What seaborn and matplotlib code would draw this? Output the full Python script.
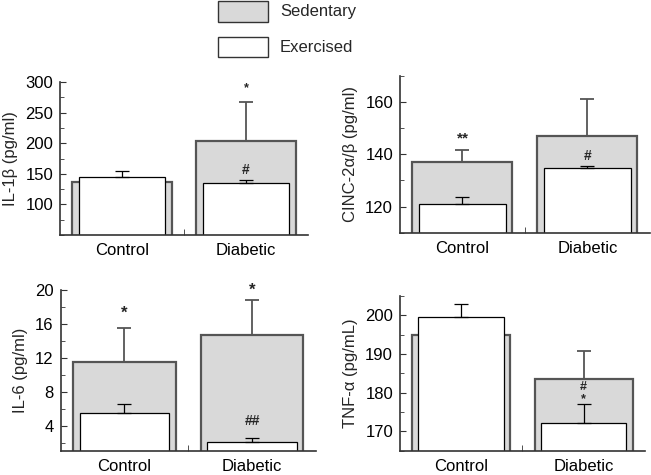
import numpy as np
import seaborn as sns
import matplotlib.pyplot as plt
from matplotlib.patches import Rectangle
from matplotlib.ticker import MultipleLocator

groups = ['Control', 'Diabetic']

# IL-1b
il1b_sed = [137, 203]
il1b_sed_err = [0, 64]
il1b_exe = [145, 135]
il1b_exe_err = [9, 5]

# CINC-2a/b
cinc_sed = [137, 147]
cinc_sed_err = [4.5, 14]
cinc_exe = [121, 134.7]
cinc_exe_err = [2.7, 0.8]

# IL-6
il6_sed = [11.5, 14.7]
il6_sed_err = [4.0, 4.1]
il6_exe = [5.45, 2.05]
il6_exe_err = [1.05, 0.5]

# TNF-a
tnf_sed = [194.8, 183.5]
tnf_sed_err = [0, 7.2]
tnf_exe = [199.6, 172.2]
tnf_exe_err = [3.4, 4.8]

sed_color = '#d9d9d9'
edge_dark = '#555555'

sns.set_style('ticks')
plt.rcParams['font.family'] = ['Liberation Sans', 'DejaVu Sans']

fig = plt.figure(figsize=(6.51, 4.75), dpi=100)

panels = [
    dict(pos=[0.0922, 0.5053, 0.381, 0.322], sed=il1b_sed, sed_err=il1b_sed_err,
         exe=il1b_exe, exe_err=il1b_exe_err, ylim=(50, 300), major=50,
         ylabel='IL-1\u03b2 (pg/ml)', ticks=[100, 150, 200, 250, 300],
         notes=[(1, 290, '*', 9), (1, 156, '#', 10)]),
    dict(pos=[0.6144, 0.5101, 0.384, 0.330], sed=cinc_sed, sed_err=cinc_sed_err,
         exe=cinc_exe, exe_err=cinc_exe_err, ylim=(110, 170), major=20,
         ylabel='CINC-2\u03b1/\u03b2 (pg/ml)', ticks=[120, 140, 160],
         notes=[(0, 146, '**', 11), (1, 139.3, '#', 10)]),
    dict(pos=[0.0932, 0.0505, 0.392, 0.339], sed=il6_sed, sed_err=il6_sed_err,
         exe=il6_exe, exe_err=il6_exe_err, ylim=(1, 20), major=4,
         ylabel='IL-6 (pg/ml)', ticks=[4, 8, 12, 16, 20],
         notes=[(0, 17.2, '*', 12), (1, 20.0, '*', 12), (1, 4.5, '##', 10)]),
    dict(pos=[0.6144, 0.0512, 0.376, 0.326], sed=tnf_sed, sed_err=tnf_sed_err,
         exe=tnf_exe, exe_err=tnf_exe_err, ylim=(165, 205), major=10,
         ylabel='TNF-\u03b1 (pg/mL)', ticks=[170, 180, 190, 200],
         notes=[(1, 181.4, '#', 9), (1, 178.4, '*', 9)]),
]

for p in panels:
    ax = fig.add_axes(p['pos'])
    sns.barplot(x=groups, y=p['sed'], width=0.8, color=sed_color,
                edgecolor=edge_dark, linewidth=1.6, saturation=1, ax=ax)
    sns.barplot(x=groups, y=p['exe'], width=0.7, color='white',
                edgecolor='black', linewidth=0.9, saturation=1, ax=ax)
    # upper error bars only, skipping empty ones
    for xi, (v, e) in enumerate(zip(p['sed'], p['sed_err'])):
        if e > 0:
            ax.errorbar(xi, v, yerr=[[0], [e]], fmt='none', ecolor=edge_dark,
                        elinewidth=1.3, capsize=5, capthick=1.3, zorder=1.5)
    for xi, (v, e) in enumerate(zip(p['exe'], p['exe_err'])):
        if e > 0:
            ax.errorbar(xi, v, yerr=[[0], [e]], fmt='none', ecolor='black',
                        elinewidth=0.9, capsize=5, capthick=0.9, zorder=3)
    for xi, yi, s, fs in p['notes']:
        ax.text(xi, yi, s, ha='center', va='center', fontsize=fs,
                fontweight='bold', clip_on=False)
    ax.set_xlim(-0.5, 1.5)
    ax.set_ylim(*p['ylim'])
    ax.set_yticks(p['ticks'])
    ax.yaxis.set_minor_locator(MultipleLocator(p['major'] / 2))
    ax.set_xticks([0.5], minor=True)
    ax.tick_params(axis='both', which='both', direction='in', colors='#333333',
                   labelcolor='black')
    ax.tick_params(axis='x', which='major', length=0, labelsize=12, pad=6)
    ax.tick_params(axis='y', which='major', length=4, labelsize=12, pad=5)
    ax.tick_params(axis='y', which='minor', length=3)
    ax.tick_params(axis='x', which='minor', length=4)
    ax.set_ylabel(p['ylabel'], fontsize=12, labelpad=5)
    ax.set_xlabel('')
    sns.despine(ax=ax)
    for sp in ['left', 'bottom']:
        ax.spines[sp].set_color('#333333')
        ax.spines[sp].set_linewidth(1.2)

# legend drawn as boxes in figure coordinates
fig.patches.append(Rectangle((218 / 651, 1 - 21.7 / 475), 50 / 651, 20.7 / 475,
                             transform=fig.transFigure, facecolor=sed_color,
                             edgecolor='#333333', linewidth=1))
fig.patches.append(Rectangle((218 / 651, 1 - 56.7 / 475), 50 / 651, 20 / 475,
                             transform=fig.transFigure, facecolor='white',
                             edgecolor='#333333', linewidth=1))
fig.text(280 / 651, 1 - 11.5 / 475, 'Sedentary', fontsize=12, va='center')
fig.text(280 / 651, 1 - 47 / 475, 'Exercised', fontsize=12, va='center')

fig.savefig('out.png', dpi=100)
